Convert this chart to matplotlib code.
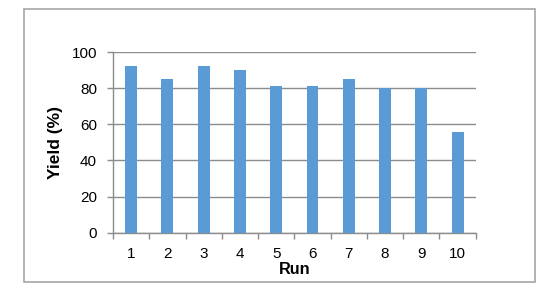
import matplotlib.pyplot as plt
from matplotlib.patches import Rectangle

runs = ["1", "2", "3", "4", "5", "6", "7", "8", "9", "10"]
yields = [92, 85, 92, 90, 81, 81, 85, 80, 80, 56]
y_ticks = [0, 20, 40, 60, 80, 100]

plt.rcParams["font.family"] = ["Liberation Sans", "DejaVu Sans"]

W, H = 550, 295
fig = plt.figure(figsize=(W / 100, H / 100), dpi=100)

# outer chart frame
fig.patches.append(Rectangle((23.5 / W, 1 - 281.5 / H), 511 / W, 272.5 / H,
                             transform=fig.transFigure, fill=False,
                             edgecolor="#a6a6a6", linewidth=1.2))

ax = fig.add_axes([113 / W, 1 - 232.7 / H, 362.7 / W, 180.7 / H])
x = list(range(len(runs)))
ax.bar(x, yields, width=0.33, color="#5b9bd5", zorder=3)

ax.set_xlim(-0.5, len(runs) - 0.5)
ax.set_ylim(0, 100)
ax.set_yticks(y_ticks)
ax.yaxis.grid(True, color="#8c8c8c", linewidth=1.0, zorder=0)

# major ticks at category boundaries, labels centred under bars
ax.set_xticks([i - 0.5 for i in range(len(runs) + 1)])
ax.set_xticklabels([])
ax.set_xticks(x, minor=True)
ax.set_xticklabels(runs, minor=True)
ax.tick_params(axis="x", which="major", length=4, color="#8c8c8c", width=1)
ax.tick_params(axis="x", which="minor", length=0, pad=10, labelsize=11)
ax.tick_params(axis="y", length=4, color="#8c8c8c", width=1, pad=7.5, labelsize=11)

for side in ("top", "right"):
    ax.spines[side].set_visible(False)
for side in ("left", "bottom"):
    ax.spines[side].set_color("#8c8c8c")
    ax.spines[side].set_linewidth(1)

ax.set_xlabel("Run", fontsize=11.7, fontweight="bold", labelpad=1)
ax.set_ylabel("Yield (%)", fontsize=12.5, fontweight="bold", labelpad=6)

fig.savefig("out.png", dpi=100)
